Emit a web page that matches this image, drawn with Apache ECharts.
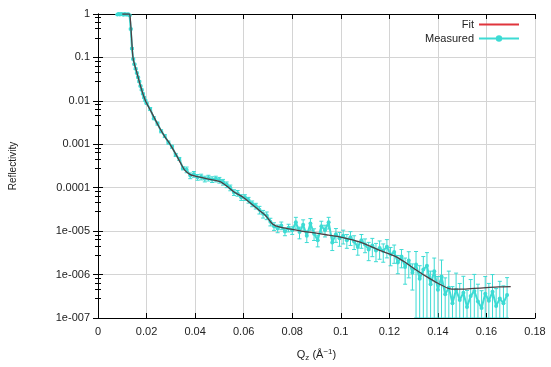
<!DOCTYPE html>
<html>
<head>
<meta charset="utf-8">
<script src="https://cdn.jsdelivr.net/npm/echarts@6/dist/echarts.min.js"></script>
<style>
  html, body { margin: 0; padding: 0; background: #fff; }
  #chart { width: 551px; height: 367px; }
</style>
</head>
<body>
<div id="chart"></div>
<script>
// fitted reflectivity curve
const fitQ = [0.0100, 0.0125, 0.0131, 0.0136, 0.0140, 0.0144, 0.0150, 0.0160, 0.0175, 0.0195,
  0.0220, 0.0250, 0.0275, 0.0297, 0.0320, 0.0340, 0.0358, 0.0380, 0.0400, 0.0450,
  0.0500, 0.0530, 0.0560, 0.0600, 0.0650, 0.0690, 0.0720, 0.0750, 0.0800, 0.0850,
  0.0900, 0.0950, 0.1000, 0.1080, 0.1160, 0.1220, 0.1260, 0.1300, 0.1350, 0.1400,
  0.1450, 0.1500, 0.1550, 0.1600, 0.1650, 0.1700]
const fitR = [1.0, 1.0, 0.98, 0.45, 0.2, 0.1, 0.07, 0.045, 0.022, 0.0102,
  0.0055, 0.0026, 0.0015, 0.001, 0.0006, 0.00037, 0.00025, 0.0002, 0.000185, 0.00016,
  0.00014, 0.00011, 0.00008, 0.000059, 0.000035, 0.000023, 0.0000145, 0.0000123, 0.000011, 0.0000098,
  0.000009, 0.0000081, 0.0000073, 0.0000056, 0.0000036, 0.0000027, 0.000002, 0.0000014, 0.00000092, 0.00000063,
  0.00000047, 0.00000046, 0.00000048, 0.0000005, 0.00000052, 0.00000053]

// measured points
const measQ = [0.008, 0.0085, 0.009, 0.0095, 0.010, 0.0105, 0.011, 0.0115, 0.012, 0.0125,
  0.013, 0.0135, 0.014, 0.0145, 0.015, 0.0155, 0.016, 0.0165, 0.017, 0.0175,
  0.018, 0.0185, 0.019, 0.0195, 0.020,
  0.0215, 0.023, 0.0245, 0.026, 0.0275, 0.029, 0.0305, 0.032, 0.0335, 0.035,
  0.0365, 0.038, 0.0395, 0.041, 0.0425, 0.044, 0.0455, 0.047, 0.0485, 0.050,
  0.0515, 0.053, 0.0545, 0.056, 0.0575, 0.059, 0.0605, 0.062, 0.0635, 0.065,
  0.0665, 0.068, 0.0695, 0.071, 0.0725, 0.074, 0.0755, 0.077, 0.0785, 0.080,
  0.0815, 0.083, 0.0845, 0.086, 0.0875, 0.089, 0.0905, 0.092, 0.0935, 0.095,
  0.0965, 0.098, 0.0995, 0.101, 0.1025, 0.104, 0.1055, 0.107, 0.1085, 0.110,
  0.1115, 0.113, 0.1145, 0.116, 0.1175, 0.119, 0.1205, 0.122, 0.1235, 0.125,
  0.1265, 0.128, 0.1295, 0.131, 0.1325, 0.134, 0.1355, 0.137, 0.1385, 0.140,
  0.1415, 0.143, 0.1445, 0.146, 0.1475, 0.149, 0.1505, 0.152, 0.1535, 0.155,
  0.1565, 0.158, 0.1595, 0.161, 0.1625, 0.164, 0.1655, 0.167, 0.1685]
const measR = [0.98, 1.0, 0.97, 1.0, 0.99, 0.96, 1.0, 0.98, 0.97, 0.99,
  0.93, 0.45, 0.16, 0.092, 0.07, 0.055, 0.044, 0.035, 0.028, 0.022,
  0.018, 0.0145, 0.012, 0.0102, 0.0088,
  6.5e-3, 4.0e-3, 3.0e-3, 2.0e-3, 1.55e-3, 1.10e-3, 8.8e-4, 5.7e-4, 4.6e-4, 2.8e-4,
  2.6e-4, 1.9e-4, 2.05e-4, 1.75e-4, 1.78e-4, 1.6e-4, 1.68e-4, 1.55e-4, 1.6e-4, 1.5e-4,
  1.35e-4, 1.18e-4, 1.0e-4, 7.8e-5, 7.5e-5, 6.0e-5, 6.0e-5, 5.2e-5, 4.3e-5, 3.8e-5,
  3.1e-5, 2.5e-5, 2.3e-5, 1.65e-5, 1.3e-5, 1.15e-5, 1.35e-5, 9.8e-6, 1.2e-5, 1.05e-5,
  1.6e-5, 9.5e-6, 1.4e-5, 7.8e-6, 1.5e-5, 8.7e-6, 6.2e-6, 1.3e-5, 1.05e-5, 1.6e-5,
  5.5e-6, 8.5e-6, 6.9e-6, 7.8e-6, 6.2e-6, 7.2e-6, 5.8e-6, 4.3e-6, 6.2e-6, 4.9e-6,
  3.8e-6, 4.7e-6, 3.6e-6, 4.1e-6, 3.5e-6, 4.4e-6, 2.9e-6, 3.3e-6, 1.9e-6, 2.6e-6,
  1.5e-6, 2.1e-6, 1.1e-6, 1.7e-6, 8e-7, 1.3e-6, 1.6e-6, 6e-7, 1.2e-6, 4.5e-7,
  9e-7, 3.5e-7, 5e-7, 2.2e-7, 4.5e-7, 2.6e-7, 3.8e-7, 1.8e-7, 3.2e-7, 4.2e-7,
  2.4e-7, 1.7e-7, 3.6e-7, 2.5e-7, 4.0e-7, 1.9e-7, 2.8e-7, 2.2e-7, 3.4e-7]
// relative error of each measured point
const measErr = [0.03, 0.03, 0.03, 0.03, 0.03, 0.03, 0.03, 0.03, 0.03, 0.03,
  0.03, 0.04, 0.04, 0.04, 0.04, 0.04, 0.04, 0.04, 0.04, 0.04,
  0.04, 0.04, 0.04, 0.04, 0.04,
  0.08, 0.08, 0.08, 0.08, 0.08, 0.08, 0.08, 0.08, 0.08, 0.08,
  0.15, 0.15, 0.15, 0.15, 0.15, 0.15, 0.15, 0.15, 0.15, 0.15,
  0.15, 0.15, 0.15, 0.15, 0.15, 0.15, 0.15, 0.15, 0.15, 0.15,
  0.2, 0.2, 0.2, 0.2, 0.2, 0.2, 0.2, 0.2, 0.2, 0.2,
  0.3, 0.3, 0.3, 0.3, 0.3, 0.3, 0.3, 0.3, 0.3, 0.3,
  0.35, 0.35, 0.35, 0.35, 0.35, 0.35, 0.35, 0.35, 0.35, 0.35,
  0.45, 0.45, 0.45, 0.45, 0.45, 0.45, 0.45, 0.45, 0.45, 0.45,
  0.6, 0.6, 0.6, 1.0, 1.0, 1.0, 1.0, 1.0, 1.0, 1.0,
  1.4, 1.4, 1.4, 1.4, 1.4, 1.4, 1.4, 1.4, 1.4, 1.4,
  1.5, 1.5, 1.5, 1.5, 1.5, 1.5, 1.5, 1.5, 1.5]

const yTickLabels = ['1e-007', '1e-006', '1e-005', '0.0001', '0.001', '0.01', '0.1', '1']

const yMin = 1e-7
const yMax = 1
const font = 'Liberation Sans, Arial, sans-serif'
const cyan = '#3ddbd4'
const fitColor = '#4e3f43'

const chart = echarts.init(document.getElementById('chart'))

const fitData = fitQ.map((q, i) => [q, fitR[i]])
const measData = measQ.map((q, i) => [q, measR[i]])
const errData = measQ.map((q, i) => {
  const r = measR[i]
  const e = r * measErr[i]
  return [q, Math.max(r - e, yMin), Math.min(r + e, yMax)]
})

const yLabel = v => {
  const k = Math.round(Math.log10(v)) + 7
  return yTickLabels[k] || ''
}

chart.setOption({
  animation: false,
  textStyle: { fontFamily: font },
  grid: { left: 98, right: 16, top: 14, bottom: 44 },
  legend: [
    {
      data: [{
        name: 'Fit',
        itemStyle: { opacity: 0 },
        lineStyle: { color: '#e0353c', width: 2 }
      }],
      right: 31, top: 19, align: 'right', padding: 0,
      itemWidth: 40, itemHeight: 10,
      textStyle: { fontFamily: font, fontSize: 11, color: '#222' }
    },
    {
      data: ['Measured'],
      right: 31, top: 33, align: 'right', padding: 0,
      itemWidth: 40, itemHeight: 8,
      textStyle: { fontFamily: font, fontSize: 11, color: '#222' }
    }
  ],
  xAxis: [
    {
      type: 'value', min: 0, max: 0.18, interval: 0.02,
      name: '{a|Q}{s|z}{a| (Å}{p|−1}{a|)}',
      nameLocation: 'middle', nameGap: 30,
      nameTextStyle: {
        rich: {
          a: { fontFamily: font, fontSize: 11, color: '#222' },
          s: { fontFamily: font, fontSize: 8, color: '#222', padding: [6, 0, 0, 0] },
          p: { fontFamily: font, fontSize: 8, color: '#222', padding: [0, 0, 6, 0] }
        }
      },
      axisLine: { onZero: false, lineStyle: { color: '#000', width: 1 } },
      axisTick: { inside: true, length: 5, lineStyle: { color: '#000' } },
      axisLabel: { fontSize: 11, color: '#222', margin: 8 },
      splitLine: { show: true, lineStyle: { color: '#d4d4d4', width: 1 } }
    },
    {
      type: 'value', position: 'top', min: 0, max: 0.18, interval: 0.02,
      axisLine: { show: true, lineStyle: { color: '#000', width: 1 } },
      axisTick: { inside: true, length: 5, lineStyle: { color: '#000' } },
      axisLabel: { show: false },
      splitLine: { show: false }
    }
  ],
  yAxis: [
    {
      type: 'log', logBase: 10, min: yMin, max: yMax,
      name: 'Reflectivity', nameLocation: 'middle', nameGap: 80, nameRotate: 90,
      nameTextStyle: { fontFamily: font, fontSize: 10, color: '#222' },
      axisLine: { show: true, lineStyle: { color: '#000', width: 1 } },
      axisTick: { inside: true, length: 5, lineStyle: { color: '#000' } },
      minorTick: { show: true, splitNumber: 5, length: 3, lineStyle: { color: '#000' } },
      axisLabel: { fontSize: 11, color: '#222', margin: 8, formatter: yLabel },
      splitLine: { show: true, lineStyle: { color: '#d4d4d4', width: 1 } }
    },
    {
      type: 'log', logBase: 10, min: yMin, max: yMax, position: 'right',
      axisLine: { show: true, lineStyle: { color: '#000', width: 1 } },
      axisTick: { inside: true, length: 5, lineStyle: { color: '#000' } },
      minorTick: { show: true, splitNumber: 5, length: 3, lineStyle: { color: '#000' } },
      axisLabel: { show: false },
      splitLine: { show: false }
    }
  ],
  series: [
    {
      name: 'Measured',
      type: 'line',
      z: 3,
      data: measData,
      symbol: 'circle',
      symbolSize: 4,
      showSymbol: true,
      color: cyan,
      itemStyle: { color: cyan },
      lineStyle: { color: cyan, width: 2 }
    },
    {
      name: 'errors',
      type: 'custom',
      clip: true,
      z: 2,
      data: errData,
      encode: { x: 0, y: [1, 2] },
      renderItem: (params, api) => {
        const q = api.value(0)
        const lo = api.coord([q, api.value(1)])
        const hi = api.coord([q, api.value(2)])
        const c = 2
        const style = { stroke: cyan, lineWidth: 1 }
        return {
          type: 'group',
          children: [
            { type: 'line', shape: { x1: lo[0], y1: lo[1], x2: hi[0], y2: hi[1] }, style },
            { type: 'line', shape: { x1: lo[0] - c, y1: lo[1], x2: lo[0] + c, y2: lo[1] }, style },
            { type: 'line', shape: { x1: hi[0] - c, y1: hi[1], x2: hi[0] + c, y2: hi[1] }, style }
          ]
        }
      }
    },
    {
      name: 'Fit',
      type: 'line',
      z: 4,
      data: fitData,
      symbol: 'none',
      smooth: 0.25,
      color: fitColor,
      lineStyle: { color: fitColor, width: 1.3 }
    }
  ]
})
</script>
</body>
</html>
